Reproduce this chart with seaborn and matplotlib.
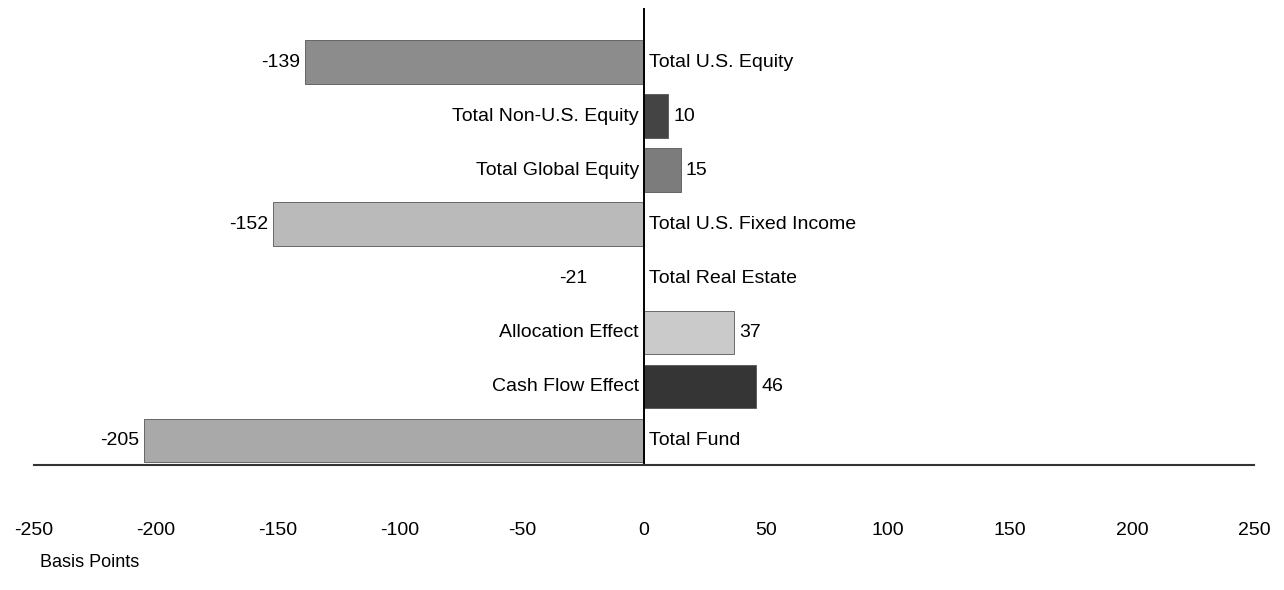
import matplotlib
matplotlib.use("Agg")
import matplotlib.pyplot as plt
import seaborn as sns
import pandas as pd

categories = ["Total U.S. Equity", "Total Non-U.S. Equity", "Total Global Equity",
              "Total U.S. Fixed Income", "Total Real Estate", "Allocation Effect",
              "Cash Flow Effect", "Total Fund"]
values = [-139, 10, 15, -152, -21, 37, 46, -205]
colors = ["#8c8c8c", "#444444", "#7c7c7c", "#bababa", "#ffffff", "#cacaca", "#353535", "#a9a9a9"]
ticks = [-250, -200, -150, -100, -50, 0, 50, 100, 150, 200, 250]

df = pd.DataFrame({"category": categories, "value": values})

sns.set_style("white")
plt.rcParams["font.family"] = ["Liberation Sans", "DejaVu Sans"]
plt.rcParams["text.color"] = "black"
plt.rcParams["xtick.color"] = "black"

fig = plt.figure(figsize=(12.84, 5.9), dpi=100)
ax = fig.add_axes([0.0265, 0.2119, 0.950, 0.7745])

sns.barplot(data=df, x="value", y="category", hue="category", palette=colors,
            orient="h", width=0.8, legend=False, edgecolor="#555555", linewidth=0.6, ax=ax)

# the real estate bar is drawn white with no outline in the original
for p in ax.patches:
    if p.get_facecolor()[:3] == (1.0, 1.0, 1.0):
        p.set_edgecolor("white")

for i, (cat, v) in enumerate(zip(categories, values)):
    if v < 0:
        ax.text(v - 2, i, str(v), ha="right", va="center", fontsize=14)
        ax.text(2, i, cat, ha="left", va="center", fontsize=14)
    else:
        ax.text(-2, i, cat, ha="right", va="center", fontsize=14)
        ax.text(v + 2, i, str(v), ha="left", va="center", fontsize=14)

ax.axvline(0, color="black", lw=1.4)
ax.set_xlim(-250, 250)
ax.set_ylim(7.46, -1.0)
ax.set_xticks(ticks)
ax.set_xticklabels([str(t) for t in ticks], fontsize=14)
ax.tick_params(axis="x", length=0, pad=41)
ax.set_yticks([])
ax.set_xlabel("")
ax.set_ylabel("")
for s in ["top", "right", "left"]:
    ax.spines[s].set_visible(False)
ax.spines["bottom"].set_color("#333333")
ax.spines["bottom"].set_linewidth(1.5)

fig.text(0.031, 0.046, "Basis Points", fontsize=13, ha="left", va="center")

fig.savefig("out.png", dpi=100)
